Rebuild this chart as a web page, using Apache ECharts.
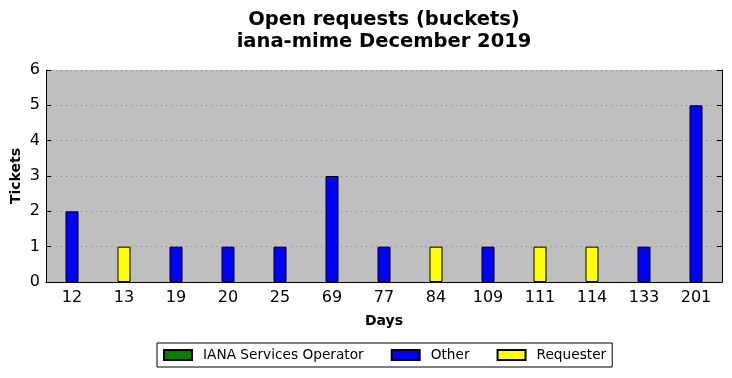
<!DOCTYPE html>
<html><head><meta charset="utf-8">
<script src="https://cdn.jsdelivr.net/npm/echarts@6/dist/echarts.min.js"></script>
<style>html,body{margin:0;padding:0;background:#fff}#c{width:732px;height:378px}</style>
</head><body><div id="c"></div>
<script>
var categories = ['12','13','19','20','25','69','77','84','109','111','114','133','201'];
var ianaOperator = [0,0,0,0,0,0,0,0,0,0,0,0,0];
var other = [2,0,1,1,1,3,1,0,1,0,0,1,5];
var requester = [0,1,0,0,0,0,0,1,0,1,1,0,0];
var yTicks = [0,1,2,3,4,5,6];

var F = 'DejaVu Sans';
function nz(a){return a.map(function(v){return v===0?null:v;});}
function ser(name, data, color){
  return {name:name, type:'bar', data:nz(data), barWidth:13, barGap:'-100%',
    itemStyle:{color:color, borderColor:'#000', borderWidth:1}, silent:true};
}
var chart = echarts.init(document.getElementById('c'), null, {renderer:'canvas'});
chart.setOption({
  animation:false,
  backgroundColor:'#fff',
  title:{text:'Open requests (buckets)\niana-mime December 2019', left:379, top:4, textAlign:'center',
    textStyle:{fontFamily:F, fontSize:19.5, fontWeight:'bold', color:'#000', lineHeight:22}},
  grid:{left:46, right:10, top:70, bottom:96, backgroundColor:'#bfbfbf', show:true, borderWidth:0,
    containLabel:false, outerBoundsMode:'none'},
  legend:{left:157, top:343, data:['IANA Services Operator','Other','Requester'],
    icon:'rect', itemWidth:28, itemHeight:10, itemGap:27, padding:[5,6,5,6],
    borderColor:'#000', borderWidth:1, backgroundColor:'#fff',
    textStyle:{fontFamily:F, fontSize:13.7, color:'#000', padding:[0,0,0,6]}},
  xAxis:[{type:'category', data:categories, name:'Days', nameLocation:'middle', nameGap:32,
    nameTextStyle:{fontFamily:F, fontSize:14, fontWeight:'bold', color:'#000'},
    axisLine:{lineStyle:{color:'#000'}}, axisTick:{inside:true, alignWithLabel:true, length:5, lineStyle:{color:'#000'}},
    axisLabel:{fontFamily:F, fontSize:16, color:'#000', margin:8}},
   {type:'category', data:categories, position:'top',
    axisLine:{lineStyle:{color:'#000'}}, axisTick:{inside:true, alignWithLabel:true, length:5, lineStyle:{color:'#000'}},
    axisLabel:{show:false}}],
  yAxis:[{type:'value', min:yTicks[0], max:yTicks[yTicks.length-1], interval:1, name:'Tickets', nameLocation:'middle', nameGap:23,
    nameMoveOverlap:false,
    nameTextStyle:{fontFamily:F, fontSize:14, fontWeight:'bold', color:'#000'},
    axisLine:{show:true, lineStyle:{color:'#000'}}, axisTick:{show:true, inside:true, length:5, lineStyle:{color:'#000'}},
    axisLabel:{fontFamily:F, fontSize:16, color:'#000', margin:6},
    splitLine:{show:true, lineStyle:{color:'#888', type:[1,4], width:1}}},
   {type:'value', min:yTicks[0], max:yTicks[yTicks.length-1], interval:1, position:'right',
    axisLine:{show:true, lineStyle:{color:'#000'}}, axisTick:{show:true, inside:true, length:5, lineStyle:{color:'#000'}},
    axisLabel:{show:false}, splitLine:{show:false}}],
  series:[ser('IANA Services Operator', ianaOperator, '#008000'), ser('Other', other, '#0000ff'), ser('Requester', requester, '#ffff00')]
});
</script></body></html>
